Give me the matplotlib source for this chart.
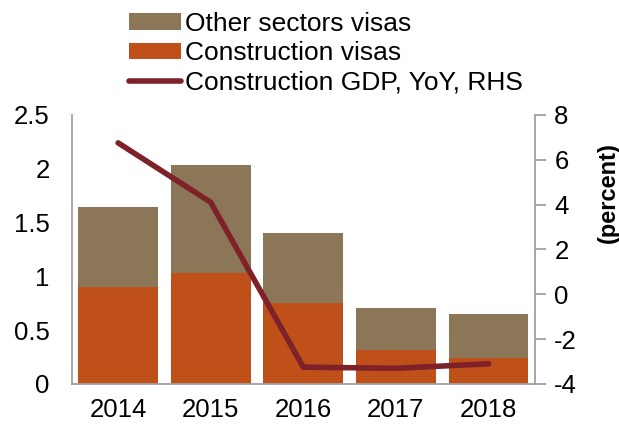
import matplotlib.pyplot as plt
import numpy as np

years = ['2014', '2015', '2016', '2017', '2018']
construction_visas = [0.90, 1.03, 0.75, 0.32, 0.24]
total_visas = [1.64, 2.03, 1.40, 0.71, 0.65]
other_visas = [t - c for t, c in zip(total_visas, construction_visas)]
gdp_yoy = [6.75, 4.1, -3.25, -3.3, -3.1]

plt.rcParams['font.family'] = ['Liberation Sans', 'DejaVu Sans']
plt.rcParams['axes.unicode_minus'] = False

fig = plt.figure(figsize=(6.19, 4.3), dpi=100)
ax = fig.add_axes([0.116, 0.107, 0.748, 0.626])
x = np.arange(len(years))
b1 = ax.bar(x, construction_visas, width=0.86, color='#C0501A', label='Construction visas')
b2 = ax.bar(x, other_visas, width=0.86, bottom=construction_visas, color='#8B7657',
            label='Other sectors visas')
ax.set_xlim(-0.5, 4.5)
ax.set_ylim(0, 2.5)
ax.set_yticks([0, 0.5, 1, 1.5, 2, 2.5])
ax.set_yticklabels(['0', '0.5', '1', '1.5', '2', '2.5'])
ax.set_xticks(x)
ax.set_xticklabels(years)
ax.tick_params(axis='both', labelsize=18.5, length=0, pad=10)
ax.tick_params(axis='y', pad=16)
for s in ['top', 'right']:
    ax.spines[s].set_visible(False)
for s in ['left', 'bottom']:
    ax.spines[s].set_color('#A0A0A0')
    ax.spines[s].set_linewidth(1.3)

ax2 = ax.twinx()
l1, = ax2.plot(x, gdp_yoy, color='#7E2128', lw=4, solid_capstyle='round',
               label='Construction GDP, YoY, RHS')
ax2.set_ylim(-4, 8)
ax2.set_yticks(range(-4, 9, 2))
ax2.tick_params(axis='y', labelsize=18.5, length=8, color='#A0A0A0', width=1.3, pad=6)
for s in ['top', 'left', 'bottom']:
    ax2.spines[s].set_visible(False)
ax2.spines['right'].set_color('#A0A0A0')
ax2.spines['right'].set_linewidth(1.3)
ax2.set_ylabel('(percent)', fontsize=17, fontweight='bold')
ax2.yaxis.set_label_coords(1.135, 0.71)

fig.legend([b2, b1, l1], ['Other sectors visas', 'Construction visas', 'Construction GDP, YoY, RHS'],
           loc='upper left', bbox_to_anchor=(0.178, 1.015), frameon=False, fontsize=19,
           handlelength=2.0, handleheight=0.6, handletextpad=0.15, labelspacing=0.2, borderpad=0.2)

fig.savefig('out.png', dpi=100)
